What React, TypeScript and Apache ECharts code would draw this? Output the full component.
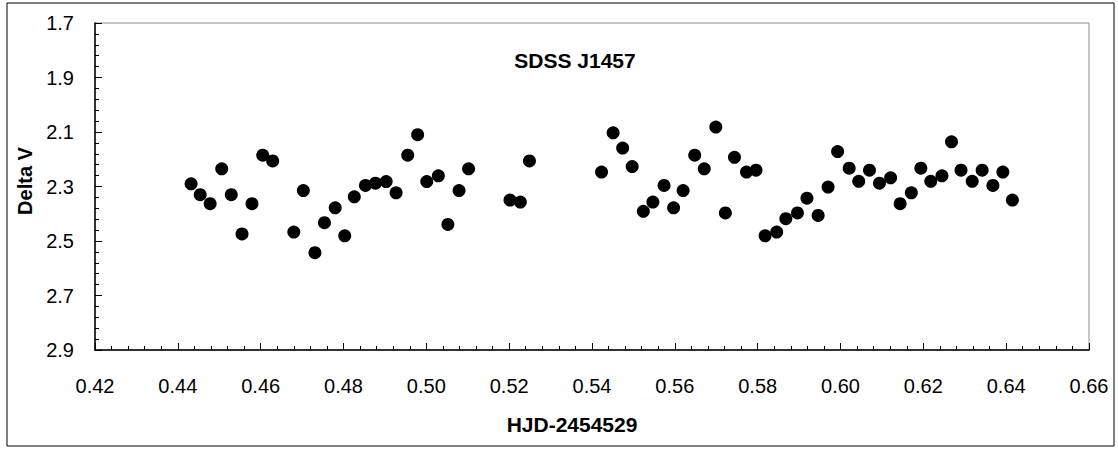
import React, { useEffect, useRef } from "react";
import * as echarts from "echarts";

const hjd: number[] = [
  0.4432, 0.4454, 0.4478, 0.4506, 0.4529, 0.4555, 0.4579, 0.4605, 0.4629, 0.468,
  0.4703, 0.4731, 0.4754, 0.478, 0.4803, 0.4826, 0.4853, 0.4877, 0.4903, 0.4927,
  0.4955, 0.4979, 0.5001, 0.5029, 0.5052, 0.5079, 0.5102, 0.5202, 0.5227, 0.5249,
  0.5423, 0.5451, 0.5474, 0.5497, 0.5524, 0.5547, 0.5574, 0.5597, 0.562, 0.5648,
  0.5671, 0.5699, 0.5722, 0.5744, 0.5773, 0.5796, 0.5818, 0.5846, 0.5868, 0.5896,
  0.5919, 0.5946, 0.597, 0.5993, 0.6021, 0.6044, 0.607, 0.6094, 0.6121, 0.6144,
  0.6171, 0.6194, 0.6218, 0.6245, 0.6268, 0.6291, 0.6318, 0.6342, 0.6368, 0.6392,
  0.6415,
];

const deltaV: number[] = [
  2.29, 2.33, 2.363, 2.235, 2.33, 2.474, 2.363, 2.185, 2.206, 2.467,
  2.315, 2.543, 2.433, 2.378, 2.481, 2.338, 2.296, 2.288, 2.282, 2.323,
  2.185, 2.11, 2.282, 2.261, 2.439, 2.315, 2.235, 2.35, 2.357, 2.206,
  2.247, 2.103, 2.159, 2.227, 2.391, 2.357, 2.296, 2.378, 2.315, 2.185,
  2.235, 2.082, 2.397, 2.193, 2.247, 2.24, 2.481, 2.467, 2.418, 2.397,
  2.343, 2.406, 2.302, 2.172, 2.233, 2.281, 2.24, 2.288, 2.268, 2.363,
  2.323, 2.233, 2.281, 2.261, 2.136, 2.24, 2.281, 2.24, 2.296, 2.247,
  2.35,
];

const titleText = "SDSS J1457";
const xAxisTitle = "HJD-2454529";
const yAxisTitle = "Delta V";

const FONT = "'Liberation Sans', Arial, sans-serif";

export default function App() {
  const ref = useRef<HTMLDivElement>(null);

  useEffect(() => {
    document.body.style.margin = "0";
    if (!ref.current) return;
    const chart = echarts.init(ref.current, undefined, { renderer: "svg" });
    const points = hjd.map((x, i) => [x, deltaV[i]]);
    chart.setOption({
      animation: false,
      backgroundColor: "#ffffff",
      grid: {
        left: 95,
        top: 23,
        right: 29,
        bottom: 99,
        show: true,
        borderColor: "#8c8c8c",
        borderWidth: 1,
        backgroundColor: "transparent",
      },
      xAxis: {
        type: "value",
        min: 0.42,
        max: 0.66,
        interval: 0.02,
        axisLine: { show: true, onZero: false, lineStyle: { color: "#000", width: 1.5 } },
        axisTick: { show: true, inside: true, length: 7, lineStyle: { color: "#000", width: 1 } },
        minorTick: { show: true, splitNumber: 5, length: 4, lineStyle: { color: "#000", width: 1 } },
        splitLine: { show: false },
        axisLabel: {
          margin: 26,
          fontSize: 20,
          fontFamily: FONT,
          color: "#000",
          formatter: (v: number) => v.toFixed(2),
        },
      },
      yAxis: {
        type: "value",
        inverse: true,
        min: 1.7,
        max: 2.9,
        interval: 0.2,
        axisLine: { show: true, onZero: false, lineStyle: { color: "#000", width: 1.5 } },
        axisTick: { show: true, inside: true, length: 7, lineStyle: { color: "#000", width: 1 } },
        minorTick: { show: true, splitNumber: 5, length: 4, lineStyle: { color: "#000", width: 1 } },
        splitLine: { show: false },
        axisLabel: {
          margin: 21,
          fontSize: 20,
          fontFamily: FONT,
          color: "#000",
          formatter: (v: number) => v.toFixed(1),
        },
      },
      graphic: [
        {
          type: "rect",
          shape: { x: 7, y: 3, width: 1107, height: 443 },
          style: { fill: "none", stroke: "#000", lineWidth: 1 },
          silent: true,
          z: -1,
        },
        {
          type: "text",
          x: 575,
          y: 60,
          style: {
            text: titleText,
            fontSize: 21,
            fontWeight: "bold",
            fontFamily: FONT,
            fill: "#000",
            textAlign: "center",
            textVerticalAlign: "middle",
          },
        },
        {
          type: "text",
          x: 572,
          y: 424,
          style: {
            text: xAxisTitle,
            fontSize: 21,
            fontWeight: "bold",
            fontFamily: FONT,
            fill: "#000",
            textAlign: "center",
            textVerticalAlign: "middle",
          },
        },
        {
          type: "text",
          x: 25,
          y: 181,
          rotation: Math.PI / 2,
          style: {
            text: yAxisTitle,
            fontSize: 20,
            fontWeight: "bold",
            fontFamily: FONT,
            fill: "#000",
            textAlign: "center",
            textVerticalAlign: "middle",
          },
        },
      ],
      series: [
        {
          type: "scatter",
          data: points,
          symbol: "circle",
          symbolSize: 13,
          itemStyle: { color: "#000", opacity: 1 },
          emphasis: { disabled: true },
        },
      ],
    });
    return () => chart.dispose();
  }, []);

  return <div ref={ref} style={{ width: 1118, height: 449 }} />;
}
